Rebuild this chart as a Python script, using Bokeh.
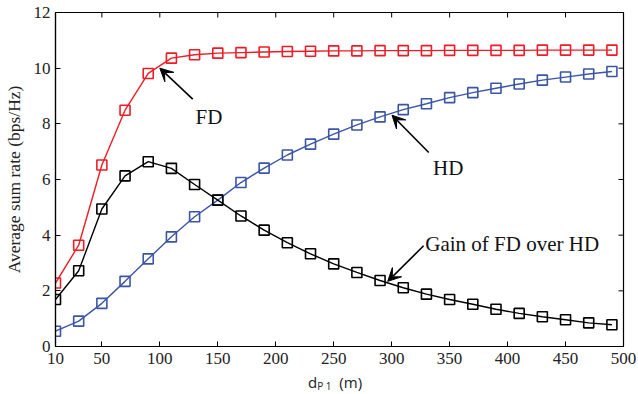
from bokeh.plotting import figure
from bokeh.models import FixedTicker, Range1d, Arrow, VeeHead, Label, Div
from bokeh.layouts import column
from bokeh.embed import file_html
from bokeh.resources import INLINE

# ---------------- data ----------------
distance = [10, 30, 50, 70, 90, 110, 130, 150, 170, 190, 210, 230, 250,
            270, 290, 310, 330, 350, 370, 390, 410, 430, 450, 470, 490]
fd_rate = [2.28, 3.64, 6.52, 8.49, 9.81, 10.36, 10.48, 10.54, 10.56, 10.58,
           10.60, 10.61, 10.62, 10.62, 10.63, 10.63, 10.63, 10.64, 10.64,
           10.64, 10.64, 10.65, 10.65, 10.65, 10.65]
hd_rate = [0.55, 0.91, 1.55, 2.34, 3.15, 3.94, 4.66, 5.26, 5.89, 6.41, 6.88,
           7.27, 7.63, 7.96, 8.25, 8.51, 8.72, 8.94, 9.12, 9.28, 9.43, 9.57,
           9.68, 9.79, 9.88]
gain_rate = [1.69, 2.72, 4.94, 6.13, 6.64, 6.40, 5.82, 5.26, 4.69, 4.18, 3.73,
             3.33, 2.97, 2.66, 2.37, 2.11, 1.88, 1.69, 1.52, 1.34, 1.19, 1.07,
             0.96, 0.85, 0.78]
x_ticks = [10, 50, 100, 150, 200, 250, 300, 350, 400, 450, 500]
y_ticks = [0, 2, 4, 6, 8, 10, 12]
X_MIN, X_MAX, Y_MIN, Y_MAX = 10, 500, 0, 12

RED = "#ee1c25"
BLUE = "#3a55a5"
BLACK = "#000000"
TXT = "#222222"
SERIF = "Liberation Serif"

W, H = 638, 372
BL, BR, BT, BB = 55, 15, 12, 26
TICK_PX = 5

p = figure(width=W, height=H, x_range=Range1d(X_MIN, X_MAX), y_range=Range1d(Y_MIN, Y_MAX),
           output_backend="svg", toolbar_location=None,
           min_border_left=BL, min_border_right=BR, min_border_top=BT,
           min_border_bottom=BB, margin=(0, 0, 0, 0))
p.grid.visible = False
p.outline_line_color = BLACK
p.outline_line_width = 1.2
p.background_fill_color = "white"
p.border_fill_color = "white"

for ax in (p.xaxis[0], p.yaxis[0]):
    ax.major_tick_in = TICK_PX
    ax.major_tick_out = 0
    ax.minor_tick_in = 0
    ax.minor_tick_out = 0
    ax.axis_line_color = BLACK
    ax.axis_line_width = 1.2
    ax.major_tick_line_width = 1
    ax.major_label_text_font = SERIF
    ax.major_label_text_font_size = "17px"
    ax.major_label_text_color = TXT

p.xaxis[0].ticker = FixedTicker(ticks=x_ticks)
p.yaxis[0].ticker = FixedTicker(ticks=y_ticks)
p.xaxis[0].major_label_standoff = 6
p.yaxis[0].major_label_standoff = 5
p.yaxis[0].axis_label = "Average sum rate (bps/Hz)"
p.yaxis[0].axis_label_text_font = SERIF
p.yaxis[0].axis_label_text_font_size = "17.5px"
p.yaxis[0].axis_label_text_font_style = "normal"
p.yaxis[0].axis_label_text_color = TXT
p.yaxis[0].axis_label_standoff = 7

# inward ticks on the top and right edges of the box
frame_w = W - BL - BR
frame_h = H - BT - BB
ty_len = TICK_PX * (Y_MAX - Y_MIN) / frame_h
tx_len = TICK_PX * (X_MAX - X_MIN) / frame_w
p.segment(x0=x_ticks, y0=[Y_MAX] * len(x_ticks), x1=x_ticks,
          y1=[Y_MAX - ty_len] * len(x_ticks), line_color=BLACK, line_width=1)
p.segment(x0=[X_MAX] * len(y_ticks), y0=y_ticks, x1=[X_MAX - tx_len] * len(y_ticks),
          y1=y_ticks, line_color=BLACK, line_width=1)

# curves
for ys, col in ((fd_rate, RED), (hd_rate, BLUE), (gain_rate, BLACK)):
    p.line(distance, ys, line_color=col, line_width=1.4)
    p.scatter(distance, ys, marker="square", size=10, fill_color=None,
              line_color=col, line_width=1.6)

# annotations: (text, text_x, text_y, tail_x, tail_y, tip_x, tip_y)
notes = [
    ("FD", 130.8, 8.25, 128.4, 8.89, 100.0, 10.0),
    ("HD", 335.7, 6.43, 332.0, 6.97, 300.3, 8.31),
    ("Gain of FD over HD", 329.0, 3.70, 327.6, 3.62, 296.6, 2.34),
]
for txt, tx, ty, x0, y0, x1, y1 in notes:
    p.add_layout(Arrow(x_start=x0, y_start=y0, x_end=x1, y_end=y1,
                       line_color=BLACK, line_width=1.6,
                       end=VeeHead(size=13, fill_color=BLACK, line_color=BLACK)))
    p.add_layout(Label(x=tx, y=ty, text=txt, text_font=SERIF, text_font_size="21px",
                       text_color="#111111", text_baseline="alphabetic"))

# x axis label: d_{P 1} (m)
xlabel = Div(
    text='d<span style="font-size:10px; vertical-align:-2px;">P 1</span>&nbsp;&nbsp;(m)',
    width=W, height=394 - H, margin=(0, 0, 0, 0),
    styles={"font-family": "'Open Sans'", "font-size": "15px", "color": TXT,
            "padding-left": "308px", "padding-top": "2px", "line-height": "16px",
            "white-space": "nowrap", "box-sizing": "border-box"})

layout = column(p, xlabel, spacing=0, margin=(0, 0, 0, 0))
open("out.html", "w").write(file_html(layout, INLINE))
